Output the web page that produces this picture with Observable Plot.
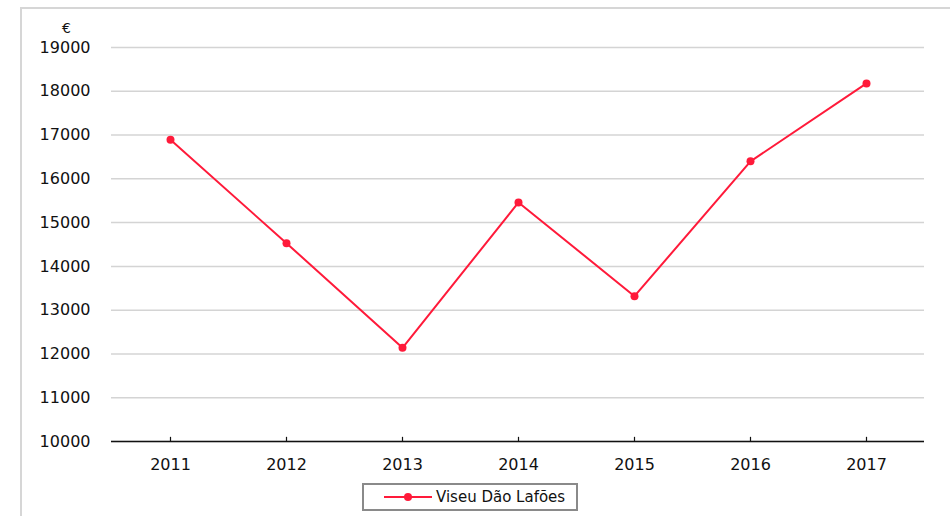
<!DOCTYPE html>
<html>
<head>
<meta charset="utf-8">
<script src="https://cdn.jsdelivr.net/npm/d3@7"></script>
<script src="https://cdn.jsdelivr.net/npm/@observablehq/plot@0.6"></script>
<style>
  html, body { margin: 0; padding: 0; background: #fff; }
  #wrap { position: relative; width: 950px; height: 516px; overflow: hidden; font-family: "DejaVu Sans", sans-serif; }
  #frame { position: absolute; left: 20px; top: 7px; width: 960px; height: 540px; border: 2px solid #d6d6d6; box-sizing: border-box; }
  #chart { position: absolute; left: 0; top: 0; }
  #euro { position: absolute; left: 62px; top: 20px; font-size: 14px; color: #111; }
  #legend { position: absolute; left: 362px; top: 483px; width: 216px; height: 28px; border: 2px solid #8a8a8a; box-sizing: border-box; display: flex; align-items: center; font-size: 15px; color: #111; }
  #legend svg { margin-left: 20px; margin-right: 2px; }
</style>
</head>
<body>
<div id="wrap">
  <div id="frame"></div>
  <div id="chart"></div>
  <div id="euro">€</div>
  <div id="legend"></div>
</div>
<script>
const years = ["2011", "2012", "2013", "2014", "2015", "2016", "2017"];
const values = [16890, 14530, 12140, 15460, 13320, 16400, 18180];
const yTicks = [10000, 11000, 12000, 13000, 14000, 15000, 16000, 17000, 18000, 19000];
const seriesName = "Viseu Dão Lafões";
const red = "#ff1a3a";
const tickLen = 95;

const data = years.map((year, i) => ({year, value: values[i]}));

const chart = Plot.plot({
  width: 950,
  height: 516,
  marginLeft: 111,
  marginRight: 26,
  marginTop: 47,
  marginBottom: 75,
  style: {fontFamily: "DejaVu Sans", fontSize: "16px", color: "#111", background: "transparent"},
  x: {type: "point", domain: years, padding: 0.5, label: null},
  y: {domain: [10000, 19000], label: null},
  marks: [
    Plot.gridY(yTicks, {stroke: "#d4d4d4", strokeOpacity: 1, strokeWidth: 1.5}),
    Plot.axisY(yTicks, {tickSize: 0, tickPadding: 21, tickFormat: d => String(d), label: null}),
    Plot.axisX({tickSize: 0, tickPadding: 17, label: null}),
    Plot.ruleY([10000], {stroke: "#111", strokeWidth: 1.6}),
    Plot.ruleX(years, {x: d => d, y1: 10000, y2: 10000 + tickLen, stroke: "#111", strokeWidth: 1.2}),
    Plot.line(data, {x: "year", y: "value", stroke: red, strokeWidth: 2}),
    Plot.dot(data, {x: "year", y: "value", r: 4, fill: red, stroke: "none"})
  ]
});
document.getElementById("chart").appendChild(chart);

const legend = document.getElementById("legend");
legend.innerHTML = `<svg width="50" height="12"><line x1="0" y1="6" x2="48" y2="6" stroke="${red}" stroke-width="2"/><circle cx="24" cy="6" r="4" fill="${red}"/></svg><span>${seriesName}</span>`;
</script>
</body>
</html>
